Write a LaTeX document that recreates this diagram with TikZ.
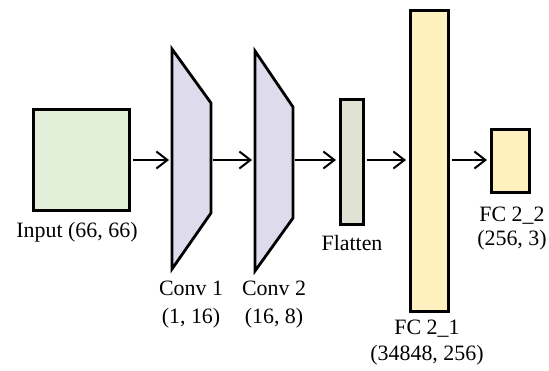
\documentclass[tikz,border=0pt]{standalone}
\usepackage{fontspec}
\setmainfont{Liberation Serif}
\usetikzlibrary{arrows.meta}
\definecolor{inGreen}{HTML}{E2F0D9}
\definecolor{convLav}{HTML}{DEDBEC}
\definecolor{flatGray}{HTML}{E2E2D4}
\definecolor{fcYel}{HTML}{FFF0C0}
\begin{document}
\begin{tikzpicture}[x=1bp,y=-1bp,
  blk/.style={draw=black,line width=2.8bp,line join=miter},
  box/.style={blk,inner sep=0pt,anchor=north west},
  conn/.style={line width=2bp,shorten <=2bp,shorten >=3bp,-{Straight Barb[length=11bp,width=17bp,line width=2bp]}},
  lbl/.style={font=\fontsize{22}{28}\selectfont,align=center,inner sep=0pt}]
\useasboundingbox (0,0) rectangle (549,370);
% blocks
\node[box,fill=inGreen,minimum width=96bp,minimum height=101bp] (inp) at (32,108) {};
\draw[blk,fill=convLav] (172,49) -- (211,103) -- (211,213) -- (172,269) -- cycle;
\coordinate (c1l) at (172,160); \coordinate (c1r) at (211,160);
\draw[blk,fill=convLav] (255,51) -- (293,107) -- (293,218) -- (255,271) -- cycle;
\coordinate (c2l) at (255,160); \coordinate (c2r) at (293,160);
\node[box,fill=flatGray,minimum width=23bp,minimum height=125bp] (fl) at (339,98) {};
\node[box,fill=fcYel,minimum width=38bp,minimum height=301bp] (fc1) at (409,9) {};
\node[box,fill=fcYel,minimum width=38bp,minimum height=63bp] (fc2) at (490,128) {};
% connectors
\draw[conn] (inp.east |- c1l) -- (c1l);
\draw[conn] (c1r) -- (c2l);
\draw[conn] (c2r) -- (fl.west |- c2r);
\draw[conn] (fl.east |- c2r) -- (fc1.west |- c2r);
\draw[conn] (fc1.east |- c2r) -- (fc2.west |- c2r);
% labels
\node[lbl] (linp) at (77,232) {Input (66, 66)};
\node[lbl] (lc1) at (191,305) {Conv 1\\(1, 16)};
\node[lbl] (lc2) at (274,305) {Conv 2\\(16, 8)};
\node[lbl] (lfl) at (352,243) {Flatten};
\node[lbl,font=\fontsize{22}{26}\selectfont] (lfc1) at (427,343) {FC 2\_1\\(34848, 256)};
\node[lbl,font=\fontsize{22}{24}\selectfont] (lfc2) at (512,229) {FC 2\_2\\(256, 3)};
\end{tikzpicture}
\end{document}
